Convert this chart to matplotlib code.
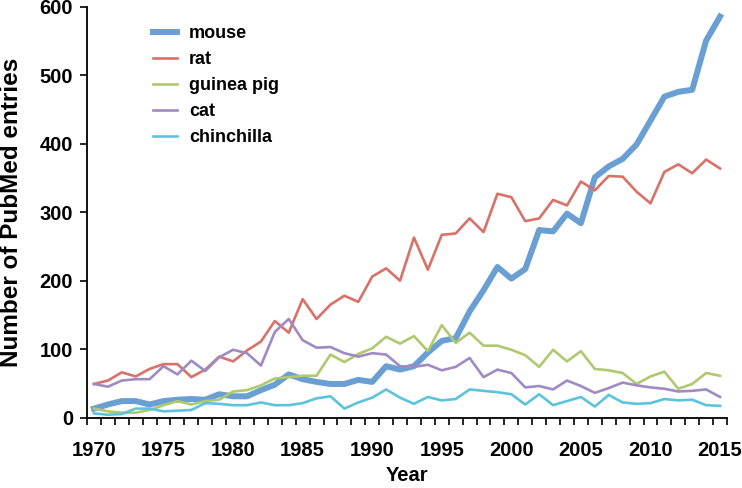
import matplotlib
matplotlib.use("Agg")
import matplotlib.pyplot as plt
import numpy as np

years = list(range(1970, 2016))
mouse = [13, 19, 24, 24, 19, 24, 26, 27, 26, 34,
         31, 31, 40, 48, 63, 56, 52, 49, 49, 55,
         52, 75, 70, 75, 95, 112, 116, 155, 186, 220,
         203, 217, 274, 272, 298, 284, 351, 367, 378, 399,
         434, 469, 476, 479, 551, 586]
rat = [49, 54, 66, 60, 71, 78, 78, 59, 70, 89,
       82, 98, 111, 141, 124, 173, 144, 165, 178, 169,
       206, 218, 200, 263, 216, 267, 269, 291, 271, 327,
       322, 287, 291, 318, 310, 345, 332, 353, 352, 330,
       313, 359, 370, 357, 377, 364]
guinea_pig = [13, 9, 7, 7, 11, 18, 24, 19, 24, 26,
              38, 40, 47, 57, 59, 61, 61, 92, 81, 93,
              101, 118, 108, 119, 97, 135, 109, 124, 105, 105,
              99, 91, 74, 99, 82, 97, 71, 69, 65, 49,
              60, 67, 42, 49, 65, 61]
cat = [49, 45, 54, 56, 56, 75, 63, 83, 68, 88,
       99, 94, 76, 125, 144, 113, 102, 103, 94, 89,
       94, 92, 75, 74, 77, 69, 74, 87, 59, 70,
       65, 44, 46, 41, 54, 46, 36, 43, 51, 47,
       44, 42, 38, 39, 41, 30]
chinchilla = [6, 4, 5, 13, 13, 9, 10, 11, 21, 20,
              18, 18, 22, 18, 18, 21, 28, 31, 13, 22,
              29, 41, 29, 20, 30, 25, 27, 41, 39, 37,
              34, 19, 34, 18, 24, 30, 16, 33, 22, 20,
              21, 27, 25, 26, 18, 17]

series_names = ["mouse", "rat", "guinea pig", "cat", "chinchilla"]
series_values = [mouse, rat, guinea_pig, cat, chinchilla]
colors = ["#6A9FD4", "#D97168", "#AEC96E", "#A08AC4", "#5BC4DC"]
widths = [4.3, 1.9, 1.9, 1.9, 1.9]

x_labels = [1970, 1975, 1980, 1985, 1990, 1995, 2000, 2005, 2010, 2015]
y_ticks = [0, 100, 200, 300, 400, 500, 600]

plt.rcParams['font.family'] = ['Liberation Sans', 'DejaVu Sans']
plt.rcParams['font.weight'] = 'bold'

fig = plt.figure(figsize=(7.42, 4.88), dpi=100)
ax = fig.add_axes([87/742, 1 - 417.5/488, 640/742, 410.5/488])

for name, vals, c, w in zip(series_names, series_values, colors, widths):
    ax.plot(years, vals, color=c, lw=w, label=name, solid_joinstyle='round')

ax.set_xlim(1969.5, 2015.5)
ax.set_ylim(0, 600)
ax.set_xticks(x_labels)
ax.set_xticklabels([str(v) for v in x_labels], fontsize=14.5, fontweight='bold')
ax.set_xticks(np.arange(1969.5, 2016.0, 1.0), minor=True)
ax.tick_params(axis='x', which='major', length=0, pad=17)
ax.tick_params(axis='x', which='minor', length=5, width=1.2, direction='out')
ax.set_yticks(y_ticks)
ax.set_yticklabels([str(v) for v in y_ticks], fontsize=14.5, fontweight='bold')
ax.tick_params(axis='y', which='major', length=5, width=1.2, direction='out', pad=5)

for s in ['top', 'right']:
    ax.spines[s].set_visible(False)
for s in ['left', 'bottom']:
    ax.spines[s].set_linewidth(1.3)

ax.set_xlabel("Year", fontsize=14.5, fontweight='bold', labelpad=4)
ax.set_ylabel("Number of PubMed entries", fontsize=17.5, fontweight='bold')
ax.yaxis.set_label_coords(-0.1, 0.5)

leg = ax.legend(loc='upper left', bbox_to_anchor=((153 - 87) / 640, (417.5 - 25) / 410.5),
                frameon=False, fontsize=13, handlelength=1.35, handletextpad=0.65,
                labelspacing=0.5, borderaxespad=0, borderpad=0)
for t in leg.get_texts():
    t.set_fontweight('bold')

fig.savefig("out.png", dpi=100)
